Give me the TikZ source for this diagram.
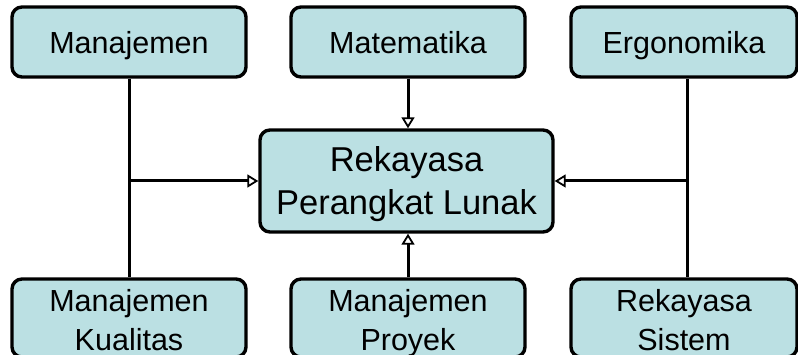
\documentclass[tikz,border=0pt]{standalone}
\usepackage{fontspec}
\setmainfont{Liberation Sans}
\usetikzlibrary{arrows.meta}
\definecolor{boxfill}{RGB}{187,224,227}
\newcommand\mystrut[2]{\rule[-#2]{0pt}{\dimexpr#1+#2\relax}}
\begin{document}
\begin{tikzpicture}[x=1pt,y=1pt,
  box/.style={draw=black, line width=3.4pt, fill=boxfill, rounded corners=10pt,
    inner sep=0pt, align=center, font=\fontsize{30.5}{39}\selectfont},
  conn/.style={line width=3pt},
  arr/.style={line width=3pt, -{Triangle[open, length=11pt, width=13pt, line width=1.8pt, fill=white]}}]
\useasboundingbox (0,0) rectangle (798,-355);
\node[box, minimum width=234pt, minimum height=70pt] (man) at (129,-42) {\mystrut{31pt}{7pt}Manajemen};
\node[box, minimum width=234pt, minimum height=70pt] (mat) at (408,-42) {\mystrut{31pt}{7pt}Matematika};
\node[box, minimum width=226pt, minimum height=70pt] (erg) at (684,-42) {\mystrut{31pt}{7pt}Ergonomika};
\node[box, minimum width=234pt, minimum height=70pt] (mk) at (129,-318) {\mystrut{32pt}{7pt}Manajemen\\\mystrut{32pt}{7pt}Kualitas};
\node[box, minimum width=234pt, minimum height=70pt] (mp) at (408,-318) {\mystrut{32pt}{7pt}Manajemen\\\mystrut{32pt}{7pt}Proyek};
\node[box, minimum width=226pt, minimum height=70pt] (rs) at (684,-318) {\mystrut{32pt}{7pt}Rekayasa\\\mystrut{32pt}{7pt}Sistem};
\node[box, minimum width=293pt, minimum height=102pt, font=\fontsize{34.5}{43}\selectfont] (rpl) at (406.5,-181) {\mystrut{33pt}{9pt}Rekayasa\\\mystrut{34pt}{9pt}Perangkat Lunak};
\coordinate (jl) at (129,-181);
\coordinate (jr) at (687,-181);
\draw[conn] (man.south) -- (mk.north);
\draw[conn] (jr |- erg.south) -- (jr |- rs.north);
\draw[arr] (jl) -- (rpl.west);
\draw[arr] (jr) -- (rpl.east);
\draw[arr] (mat.south) -- (mat.south |- rpl.north);
\draw[arr] (mp.north) -- (mp.north |- rpl.south);
\end{tikzpicture}
\end{document}
